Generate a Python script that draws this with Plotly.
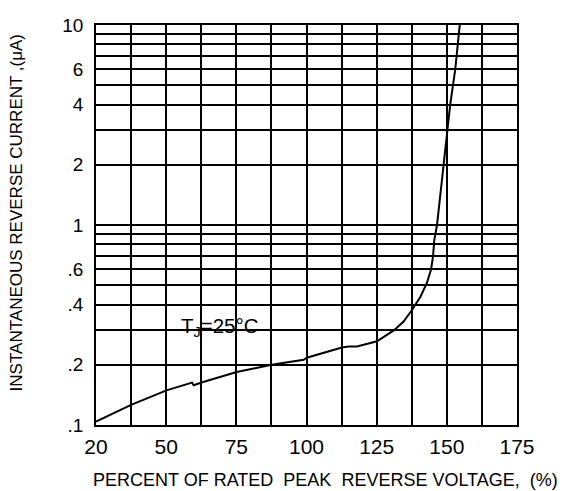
import plotly.graph_objects as go

# Curve (percent of rated peak reverse voltage, µA)
voltage_pct = [25, 37.5, 50.1, 59.2, 59.8, 62.6, 75.1, 87.6, 99.0, 100.1, 112.6, 115.0,
               118.0, 125.1, 131.1, 134.6, 137.7, 140.6, 142.9, 144.4, 145.1, 145.5,
               146.5, 148.9, 151.2, 153.0, 154.6]
current_ua = [0.104, 0.126, 0.149, 0.163, 0.158, 0.163, 0.184, 0.200, 0.212, 0.217, 0.244,
              0.247, 0.247, 0.262, 0.297, 0.329, 0.378, 0.438, 0.513, 0.600, 0.700, 0.835,
              1.0, 2.0, 4.0, 6.0, 10.0]

x_tickvals = [25, 37.5, 50, 62.5, 75, 87.5, 100, 112.5, 125, 137.5, 150, 162.5, 175]
x_ticktext = ["20", "", "50", "", "75", "", "100", "", "125", "", "150", "", "175"]

y_tickvals = [0.1, 0.2, 0.3, 0.4, 0.5, 0.6, 0.7, 0.8, 0.9,
              1, 2, 3, 4, 5, 6, 7, 8, 9, 10]
y_ticktext = [".1", ".2", "", ".4", "", ".6", "", "", "",
              "1", "2", "", "4", "", "6", "", "", "", "10"]

FONT = "Liberation Sans, Arial"

fig = go.Figure()
fig.add_trace(go.Scatter(x=voltage_pct, y=current_ua, mode="lines",
                         line=dict(color="black", width=2), showlegend=False,
                         hoverinfo="skip"))

fig.add_annotation(x=54.5, y=-0.51, xref="x", yref="y",
                   text="T<sub>J</sub>=25°C", showarrow=False, xanchor="left",
                   font=dict(family=FONT, size=20.5, color="black"))

# axis titles as annotations for exact placement
fig.add_annotation(x=0.546, y=-0.1375, xref="paper", yref="paper",
                   text="PERCENT OF RATED\u00a0\u00a0PEAK\u00a0\u00a0REVERSE VOLTAGE,\u00a0\u00a0(%)",
                   showarrow=False, xanchor="center", yanchor="middle",
                   font=dict(family=FONT, size=18, color="black"))
fig.add_annotation(x=-0.190, y=0.529, xref="paper", yref="paper",
                   text="INSTANTANEOUS REVERSE CURRENT ,(μA)", textangle=-90,
                   showarrow=False, xanchor="center", yanchor="middle",
                   font=dict(family=FONT, size=17, color="black"))

fig.update_xaxes(range=[25, 175], tickvals=x_tickvals, ticktext=x_ticktext,
                 showgrid=True, gridcolor="black", gridwidth=1.5,
                 showline=True, linecolor="black", linewidth=1.5, mirror=True,
                 ticks="", zeroline=False, ticklabelstandoff=2,
                 tickfont=dict(family=FONT, size=21, color="black"))
fig.update_yaxes(type="log", range=[-1, 1], tickvals=y_tickvals, ticktext=y_ticktext,
                 showgrid=True, gridcolor="black", gridwidth=1.5,
                 showline=True, linecolor="black", linewidth=1.5, mirror=True,
                 ticks="", zeroline=False, ticklabelstandoff=7,
                 tickfont=dict(family=FONT, size=19, color="black"))

fig.update_layout(width=559, height=483, paper_bgcolor="white", plot_bgcolor="white",
                  margin=dict(l=88, r=50, t=17, b=66, autoexpand=False))

fig.write_html("out.html")
